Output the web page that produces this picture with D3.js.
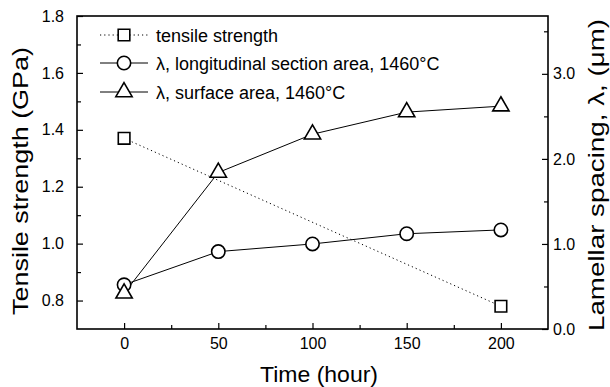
<!DOCTYPE html>
<html><head><meta charset="utf-8">
<script src="https://cdn.jsdelivr.net/npm/d3@7"></script>
<style>body{margin:0;background:#fff}svg{display:block;font-family:"Liberation Sans",Arial,sans-serif}</style>
</head><body><svg id="c" width="610" height="387"></svg>
<script>
const timesTensile = [0, 200];
const tensile = [1.37, 0.78];
const times = [0, 50, 100, 150, 200];
const lamLong = [0.52, 0.91, 1.0, 1.12, 1.165];
const lamSurf = [0.42, 1.84, 2.29, 2.55, 2.62];
const xTicks = [0, 50, 100, 150, 200];
const yLeftTicks = [0.8, 1.0, 1.2, 1.4, 1.6, 1.8];
const yRightTicks = [0, 1, 2, 3];
const legendLabels = ["tensile strength", "λ, longitudinal section area, 1460°C", "λ, surface area, 1460°C"];

const L = 77, R = 548, T = 16, B = 329;
const svg = d3.select("#c");
const x = d3.scaleLinear().domain([-25, 225]).range([L, R]);
const yL = d3.scaleLinear().domain([0.7, 1.8]).range([B, T]);
const yR = d3.scaleLinear().domain([0, 3.68]).range([B, T]);

function styleAxis(g){ g.select(".domain").remove(); g.selectAll("line").attr("stroke","#000").attr("stroke-width",1.2); g.selectAll("text").attr("fill","#000"); }
const bot = svg.append("g").attr("transform",`translate(0,${B})`)
  .call(d3.axisBottom(x).tickValues(xTicks).tickSize(-6).tickPadding(9).tickFormat(d3.format("d")));
bot.call(styleAxis); bot.selectAll("text").attr("font-size",16);
svg.append("g").attr("transform",`translate(0,${B})`)
  .call(d3.axisBottom(x).tickValues(xTicks.slice(0,-1).map(d=>d+25)).tickSize(-4).tickFormat("")).call(styleAxis);

const lft = svg.append("g").attr("transform",`translate(${L},0)`)
  .call(d3.axisLeft(yL).tickValues(yLeftTicks).tickSize(-6).tickPadding(13).tickFormat(d3.format(".1f")));
lft.call(styleAxis); lft.selectAll("text").attr("font-size",16);
svg.append("g").attr("transform",`translate(${L},0)`)
  .call(d3.axisLeft(yL).tickValues(yLeftTicks.slice(0,-1).map(d=>d+0.1)).tickSize(-4).tickFormat("")).call(styleAxis);

const rgt = svg.append("g").attr("transform",`translate(${R},0)`)
  .call(d3.axisRight(yR).tickValues(yRightTicks).tickSize(-6).tickPadding(5).tickFormat(d3.format(".1f")));
rgt.call(styleAxis); rgt.selectAll("text").attr("font-size",16);
svg.append("g").attr("transform",`translate(${R},0)`)
  .call(d3.axisRight(yR).tickValues(yRightTicks.map(d=>d+0.5)).tickSize(-4).tickFormat("")).call(styleAxis);

svg.append("rect").attr("x",L).attr("y",T).attr("width",R-L).attr("height",B-T)
  .attr("fill","none").attr("stroke","#000").attr("stroke-width",1.6);

// titles
svg.append("text").attr("x",319).attr("y",382).attr("text-anchor","middle").attr("font-size",22)
  .attr("textLength",118).attr("lengthAdjust","spacingAndGlyphs").text("Time (hour)");
svg.append("text").attr("transform",`translate(28,181) rotate(-90)`).attr("text-anchor","middle").attr("font-size",22)
  .attr("textLength",268).attr("lengthAdjust","spacingAndGlyphs").text("Tensile strength (GPa)");
svg.append("text").attr("transform",`translate(604,175) rotate(-90)`).attr("text-anchor","middle").attr("font-size",22)
  .attr("textLength",312).attr("lengthAdjust","spacingAndGlyphs").text("Lamellar spacing, λ, (μm)");

// lines
const lineT = d3.line().x((d,i)=>x(timesTensile[i])).y(d=>yL(d));
const lineR = d3.line().x((d,i)=>x(times[i])).y(d=>yR(d));
svg.append("path").attr("d",lineT(tensile)).attr("fill","none").attr("stroke","#000").attr("stroke-width",1).attr("stroke-dasharray","1.2,3");
svg.append("path").attr("d",lineR(lamLong)).attr("fill","none").attr("stroke","#000").attr("stroke-width",1);
svg.append("path").attr("d",lineR(lamSurf)).attr("fill","none").attr("stroke","#000").attr("stroke-width",1);

const sym = {sq: d3.symbol().type(d3.symbolSquare).size(135), ci: d3.symbol().type(d3.symbolCircle).size(140), tr: d3.symbol().type(d3.symbolTriangle).size(115)};
function markers(data, xs, ys, s){
  svg.append("g").selectAll("path").data(data).join("path")
    .attr("transform",(d,i)=>`translate(${x(xs[i])},${ys(d)})`).attr("d",s)
    .attr("fill","#fff").attr("stroke","#000").attr("stroke-width",1.6);
}
markers(lamLong, times, yR, sym.ci());
markers(lamSurf, times, yR, sym.tr());
markers(tensile, timesTensile, yL, sym.sq());

// legend
const legY = [35, 63, 92];
const legSym = [sym.sq(), sym.ci(), sym.tr()];
const legDash = ["1.2,3", null, null];
legendLabels.forEach((lab,i)=>{
  const g = svg.append("g").attr("transform",`translate(0,${legY[i]})`);
  g.append("line").attr("x1",100).attr("x2",148).attr("stroke","#000").attr("stroke-width",1).attr("stroke-dasharray",legDash[i]);
  g.append("path").attr("transform","translate(124,0)").attr("d",legSym[i]).attr("fill","#fff").attr("stroke","#000").attr("stroke-width",1.6);
  g.append("text").attr("x",156).attr("y",6.5).attr("font-size",18).text(lab);
});
</script></body></html>
